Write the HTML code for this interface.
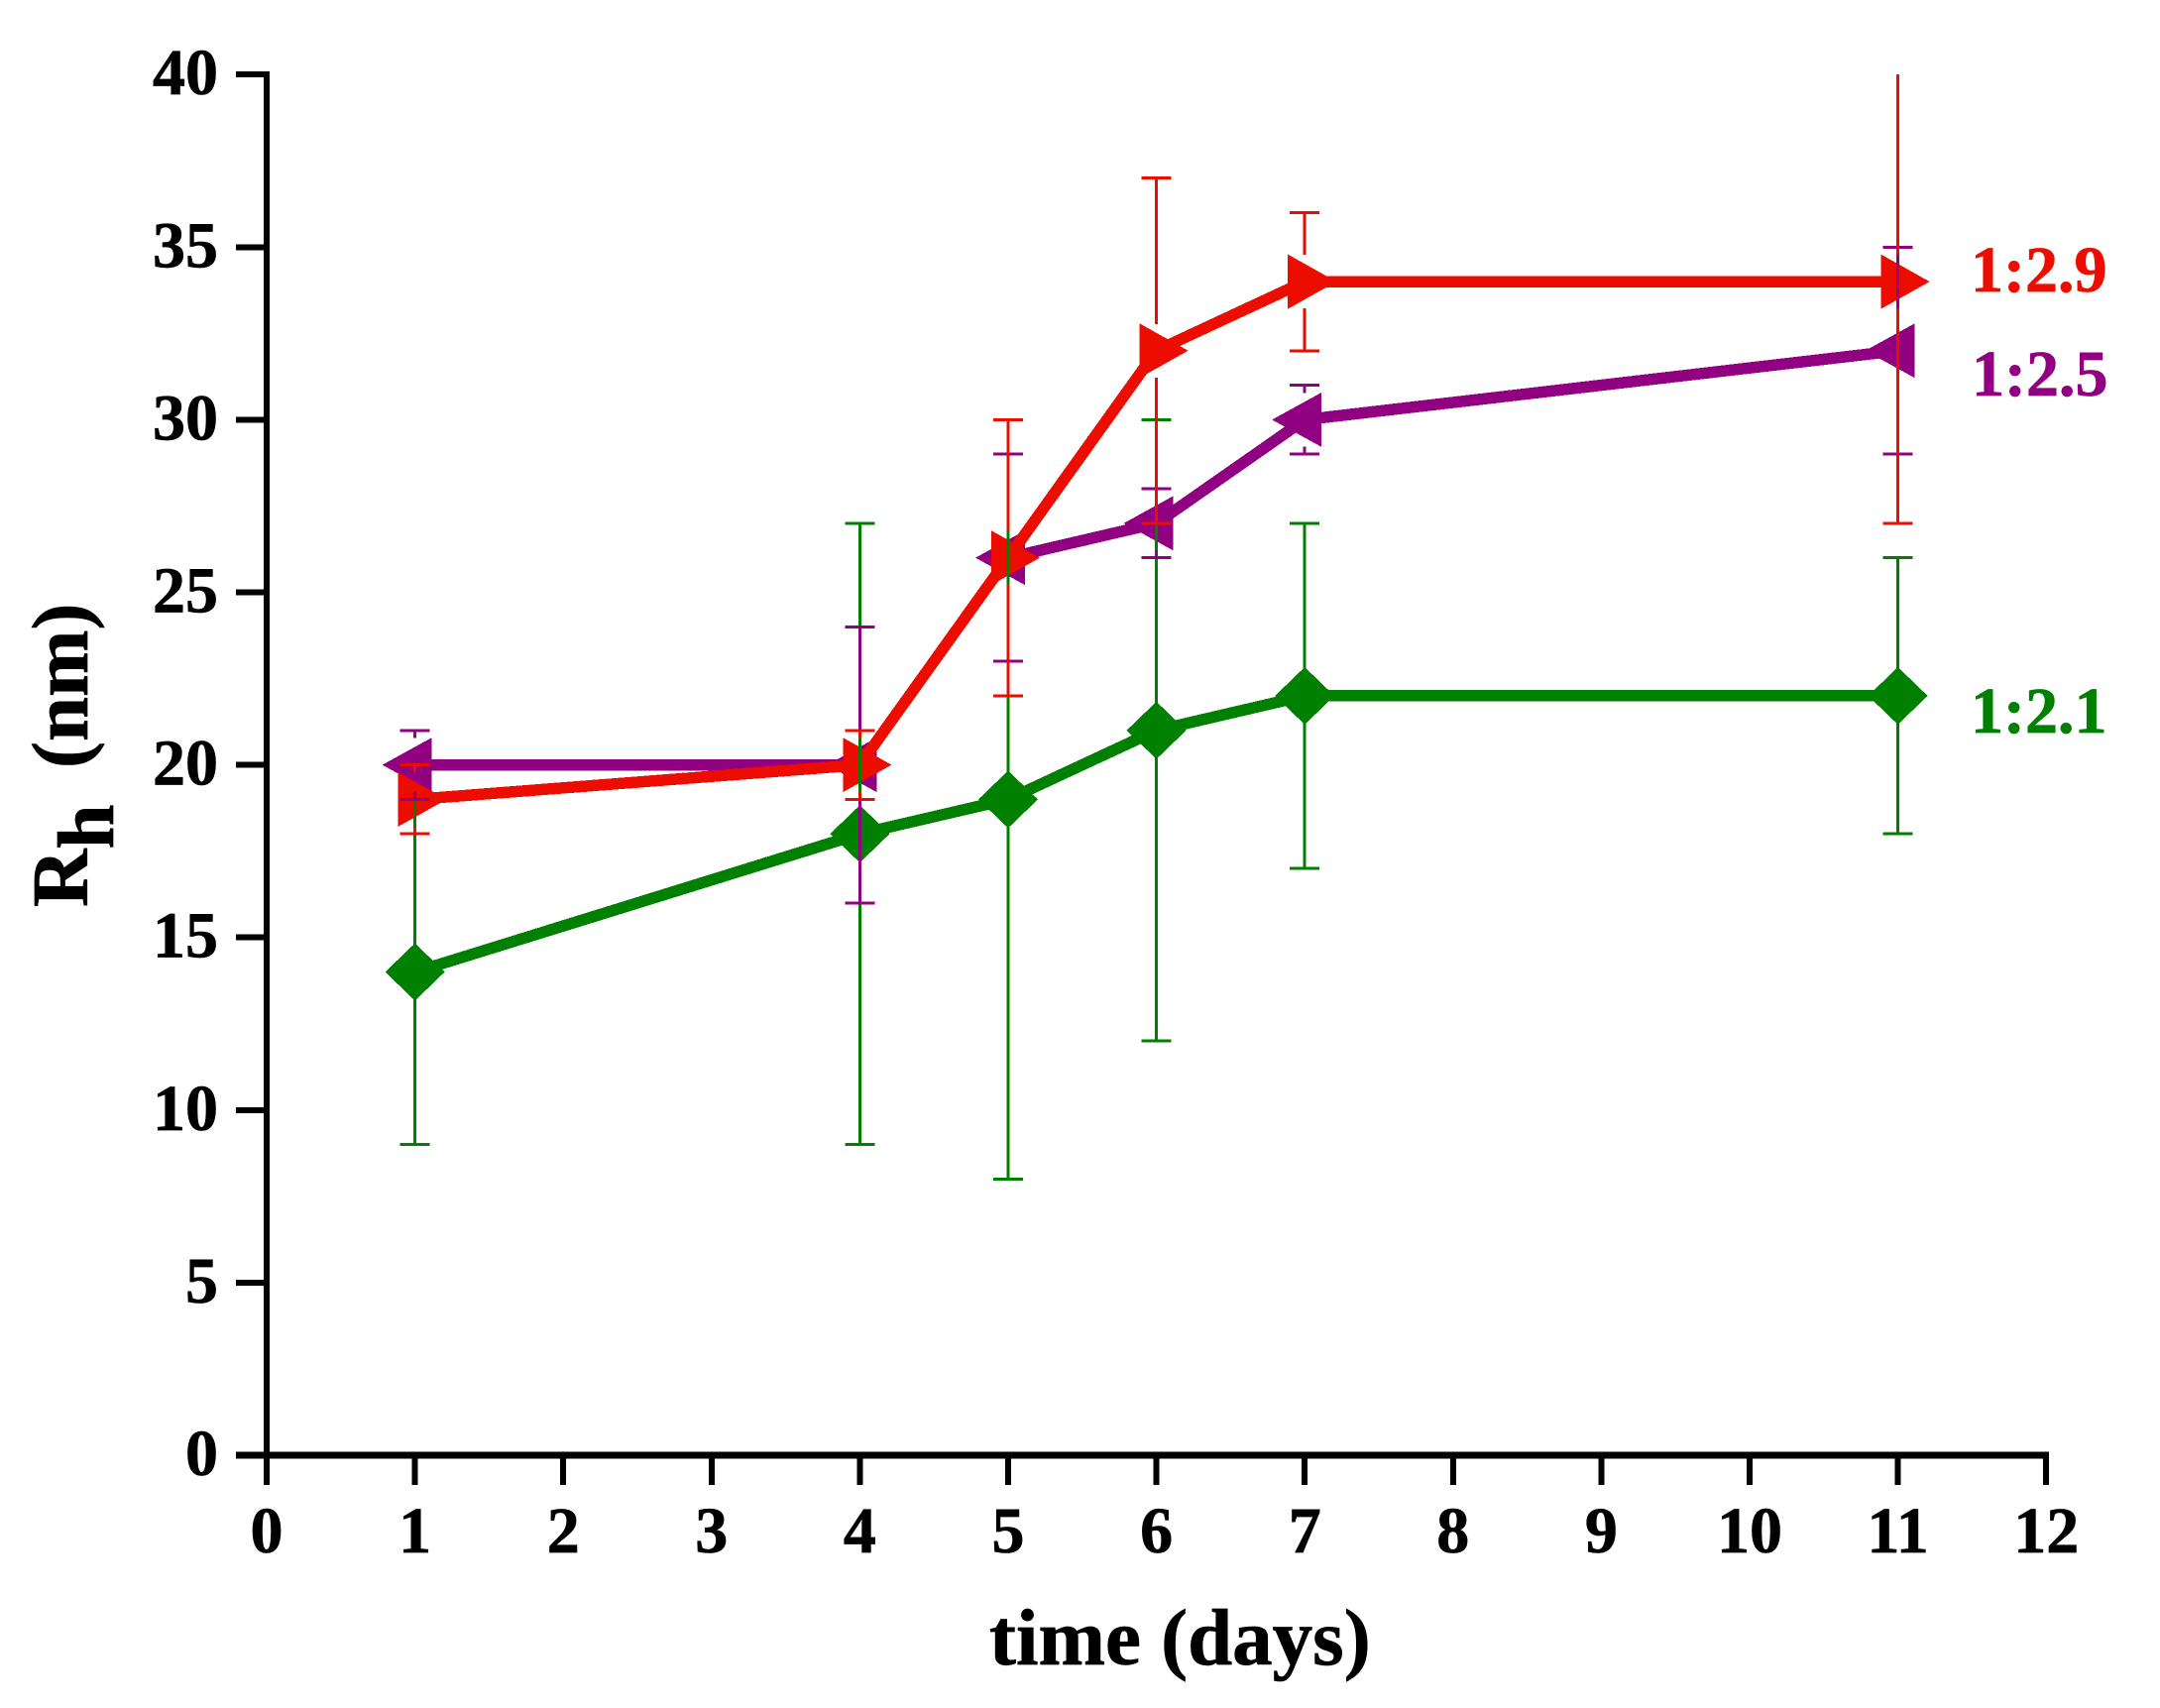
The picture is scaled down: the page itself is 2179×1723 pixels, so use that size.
<!DOCTYPE html>
<html lang="en">
<head>
<meta charset="utf-8">
<title>Rh versus time</title>
<style>
html,body{margin:0;padding:0;background:#fff;}
svg{display:block;}
text{font-family:"Liberation Serif","Times New Roman",serif;font-weight:bold;stroke-width:0.7px;paint-order:stroke;}
line,polyline,polygon{shape-rendering:crispEdges;}
</style>
</head>
<body>
<svg id="chart" xmlns="http://www.w3.org/2000/svg" width="2179" height="1723" viewBox="0 0 2179 1723">
  <rect x="0" y="0" width="2179" height="1723" fill="#ffffff"/>
  <g id="axes"></g>
  <g id="marks"></g>
  <g id="bars"></g>
  <text x="998" y="1679" font-size="81" fill="#000" stroke="#000">time (days)</text>
  <text transform="translate(88,915) rotate(-90)" font-size="81" fill="#000" stroke="#000">R<tspan dy="26">h</tspan><tspan x="140" dy="-26">(nm)</tspan></text>
</svg>
<script>
var days = [1, 4, 5, 6, 7, 11];
var xTickLabels = [0, 1, 2, 3, 4, 5, 6, 7, 8, 9, 10, 11, 12];
var yTickLabels = [0, 5, 10, 15, 20, 25, 30, 35, 40];

var values121 = [14, 18, 19, 21, 22, 22];
var low121 = [9, 9, 8, 12, 17, 18];
var high121 = [19, 27, 30, 30, 27, 26];

var values125 = [20, 20, 26, 27, 30, 32];
var low125 = [19, 16, 23, 26, 29, 29];
var high125 = [21, 24, 29, 28, 31, 35];

var values129 = [19, 20, 26, 32, 34, 34];
var low129 = [18, 19, 22, 27, 32, 27];
var high129 = [20, 21, 30, 37, 36, 40];

var seriesNames = ['1:2.1', '1:2.5', '1:2.9'];

var NS = 'http://www.w3.org/2000/svg';
var COLORS = {g: '#008000', p: '#920082', r: '#ec0d00'};

function xScale(v) { return 269 + 149.6 * v; }
function yScale(v) { return 1468 - 34.82 * v; }

function make(tag, parent, attrs, text) {
  var el = document.createElementNS(NS, tag);
  for (var k in attrs) { el.setAttribute(k, attrs[k]); }
  if (text !== undefined) { el.textContent = text; }
  parent.appendChild(el);
  return el;
}

var axes = document.getElementById('axes');
var marks = document.getElementById('marks');
var bars = document.getElementById('bars');

var yAxisLine = make('line', axes, {x1: xScale(0), x2: xScale(0), y1: yScale(40) - 3, y2: yScale(0) + 3, stroke: '#000', 'stroke-width': 6});



var xAxisLine = make('line', axes, {x1: 238, x2: xScale(12) + 3, y1: yScale(0), y2: yScale(0), stroke: '#000', 'stroke-width': 7});



xTickLabels.forEach(function (t) {
  var tick = make('line', axes, {x1: xScale(t), x2: xScale(t), y1: yScale(0), y2: yScale(0) + 30, stroke: '#000', 'stroke-width': 6});
  
  
  var label = make('text', axes, {x: xScale(t), y: 1566, 'text-anchor': 'middle', 'font-size': 66, fill: '#000', stroke: '#000'}, String(t));
  
  
});

yTickLabels.forEach(function (t) {
  var tick = make('line', axes, {x1: 238, x2: xScale(0), y1: yScale(t), y2: yScale(t), stroke: '#000', 'stroke-width': 6});
  
  
  var label = make('text', axes, {x: 220, y: yScale(t) + 20, 'text-anchor': 'end', 'font-size': 66, fill: '#000', stroke: '#000'}, String(t));
  
  
});

function markerPoints(kind, cx, cy) {
  if (kind === 'diamond') {
    return [[cx - 30, cy], [cx, cy - 29], [cx + 30, cy], [cx, cy + 29]];
  }
  if (kind === 'left') {
    return [[cx - 33, cy], [cx + 17, cy - 27.5], [cx + 17, cy + 27.5]];
  }
  return [[cx - 17, cy - 27.5], [cx + 32, cy], [cx - 17, cy + 27.5]];
}

function drawSeries(slug, values, kind, color) {
  var pts = days.map(function (d, i) { return xScale(d) + ',' + yScale(values[i]); }).join(' ');
  var line = make('polyline', marks, {points: pts, fill: 'none', stroke: color, 'stroke-width': 11.5, 'stroke-linejoin': 'miter'});
  
  
  days.forEach(function (d, i) {
    var poly = markerPoints(kind, xScale(d), yScale(values[i])).map(function (p) { return p.join(','); }).join(' ');
    var marker = make('polygon', marks, {points: poly, fill: color});
    
    
  });
}

function drawBars(slug, values, low, high, color) {
  var GAP = 27;
  var yMax = yTickLabels[yTickLabels.length - 1];
  days.forEach(function (d, i) {
    var x = xScale(d);
    var c = yScale(values[i]);
    var top = yScale(high[i]);
    var bottom = yScale(low[i]);
    var up = make('line', bars, {x1: x, x2: x, y1: top, y2: c - GAP, stroke: color, 'stroke-width': 3});
    
    
    var down = make('line', bars, {x1: x, x2: x, y1: c + GAP, y2: bottom, stroke: color, 'stroke-width': 3});
    
    
    if (high[i] < yMax) {
      var capTop = make('line', bars, {x1: x - 15, x2: x + 15, y1: top, y2: top, stroke: color, 'stroke-width': 3});
      
      
    }
    var capBottom = make('line', bars, {x1: x - 15, x2: x + 15, y1: bottom, y2: bottom, stroke: color, 'stroke-width': 3});
    
    
  });
}

drawSeries('1-2-1', values121, 'diamond', COLORS.g);
drawSeries('1-2-5', values125, 'left', COLORS.p);
drawSeries('1-2-9', values129, 'right', COLORS.r);

drawBars('1-2-1', values121, low121, high121, COLORS.g);
drawBars('1-2-5', values125, low125, high125, COLORS.p);
drawBars('1-2-9', values129, low129, high129, COLORS.r);

var svgRoot = document.getElementById('chart');

var label121 = make('text', svgRoot, {x: 1988, y: 739, 'font-size': 66, fill: COLORS.g, stroke: COLORS.g}, seriesNames[0]);



var label125 = make('text', svgRoot, {x: 1989, y: 399, 'font-size': 66, fill: COLORS.p, stroke: COLORS.p}, seriesNames[1]);



var label129 = make('text', svgRoot, {x: 1988, y: 294, 'font-size': 66, fill: COLORS.r, stroke: COLORS.r}, seriesNames[2]);


</script>
</body>
</html>
